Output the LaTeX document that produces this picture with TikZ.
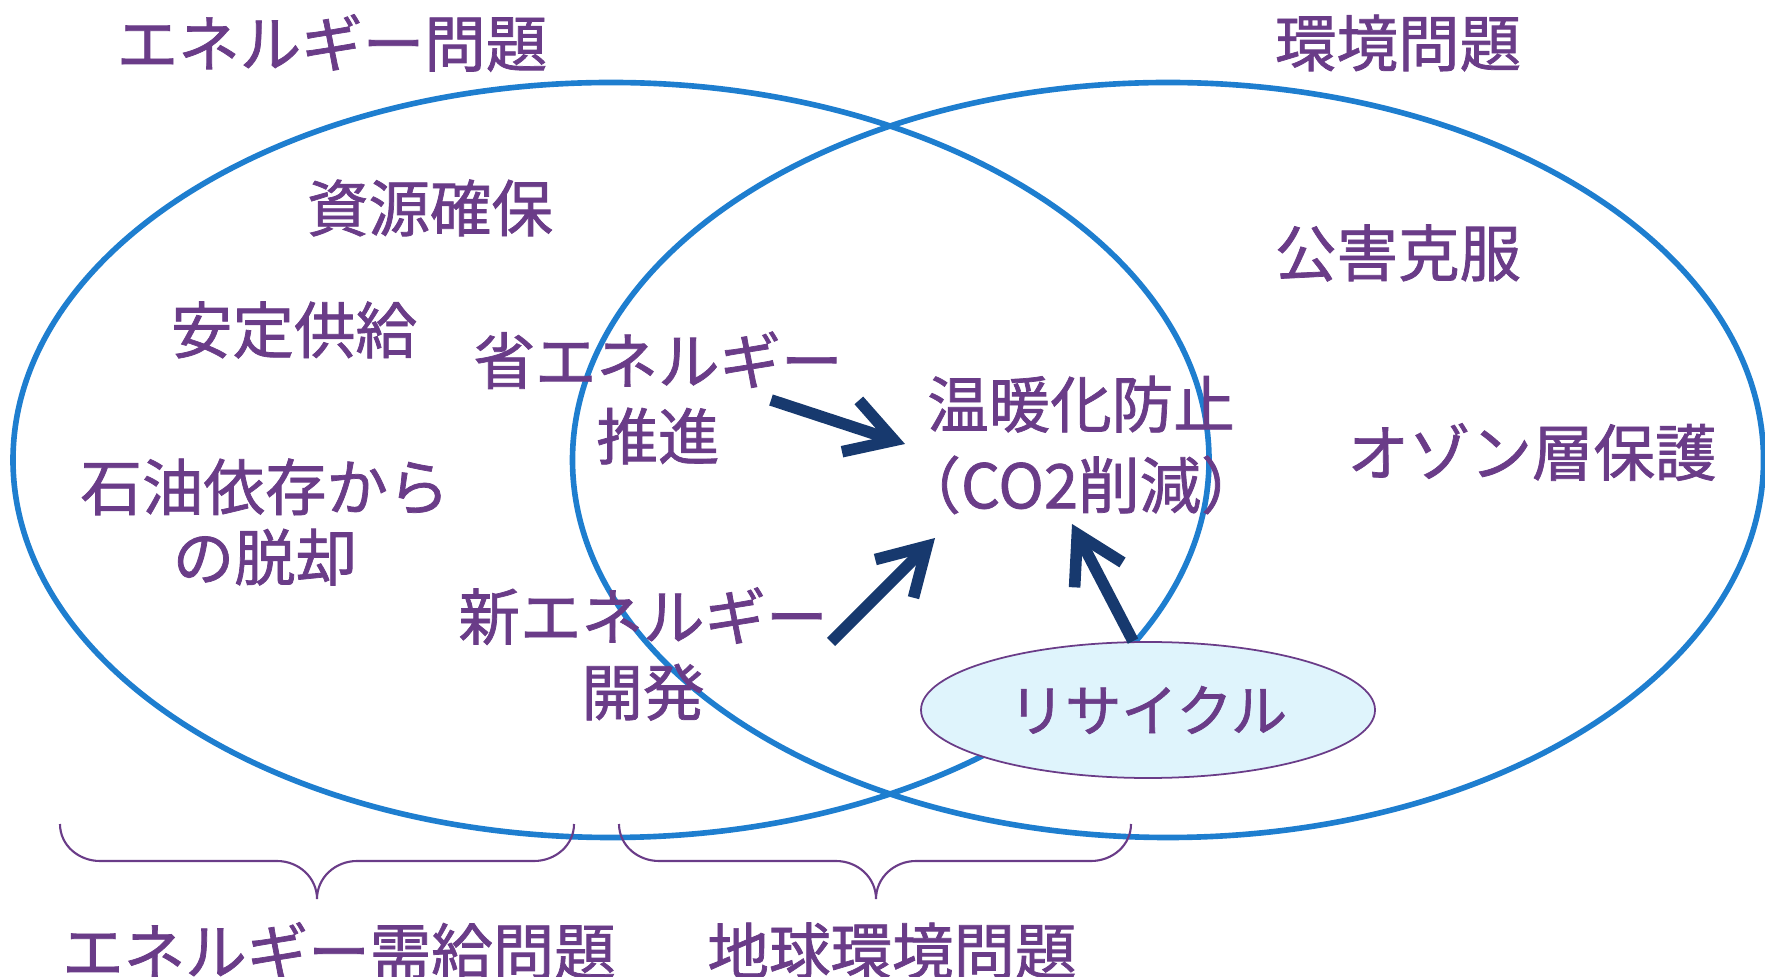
\documentclass[tikz,border=0pt]{standalone}
\usepackage{fontspec}
\setmainfont{Noto Sans CJK JP}[FakeBold=1.2]
\usetikzlibrary{arrows.meta,shapes.geometric}
\definecolor{txtpurple}{RGB}{106,60,136}
\definecolor{ringblue}{RGB}{30,126,207}
\definecolor{arrowblue}{RGB}{23,57,110}
\definecolor{recfill}{RGB}{223,244,252}
\begin{document}
\begin{tikzpicture}[line cap=butt]
        % Styles
        \tikzstyle{ring}=[draw=ringblue,line width=1.6pt]
        \tikzstyle{txt}=[text=txtpurple,font=\fontsize{17.5}{21.5}\selectfont,align=center,inner sep=2pt]
        \tikzstyle{recbox}=[ellipse,draw=txtpurple,line width=0.5pt,fill=recfill,minimum width=4.54cm,minimum height=1.36cm,inner sep=0pt]
        \tikzstyle{push}=[draw=arrowblue,line width=3.3pt,-{Straight Barb[length=4.6mm,width=5.4mm]}]
        \tikzstyle{bracket}=[draw=txtpurple,line width=0.6pt]
        \useasboundingbox (0,0) rectangle (17.65,-9.77);
        %The graphic
        %circles
        \draw[ring] (6.11,-4.60) ellipse (5.98 and 3.775);
        \draw[ring] (11.68,-4.60) ellipse (5.955 and 3.775);
        \node[recbox] (rec) at (11.48,-7.10) {};
        %labels
        \node[txt] (enemon) at (3.32,-0.43) {エネルギー問題};
        \node[txt] (kankyo) at (13.98,-0.43) {環境問題};
        \node[txt] (shigen) at (4.30,-2.08) {資源確保};
        \node[txt] (antei) at (2.94,-3.30) {安定供給};
        \node[txt] (sekiyu) at (2.65,-5.22) {石油依存から\\[-1.5pt]の脱却};
        \node[txt] (sho) at (6.58,-3.98) {省エネルギー\\推進};
        \node[txt] (shin) at (6.43,-6.54) {新エネルギー\\開発};
        \node[txt] (ondan) at (10.81,-4.45) {温暖化防止\\[1.5pt]（CO2削減）};
        \node[txt] (kogai) at (13.98,-2.53) {公害克服};
        \node[txt] (ozon) at (15.32,-4.52) {オゾン層保護};
        \node[txt,font=\fontsize{16}{19}\selectfont] at (rec) (recname) {リサイクル};
        \node[txt] (jukyu) at (3.39,-9.51) {エネルギー需給問題};
        \node[txt] (chikyu) at (8.92,-9.51) {地球環境問題};
        %arrows
        \coordinate (sho end) at (7.71,-4.00);
        \coordinate (shin end) at (8.31,-6.42);
        \coordinate (ondan in) at (9.05,-4.44);
        \coordinate (ondan low) at (9.35,-5.38);
        \draw[push] (sho end) -- (ondan in);
        \draw[push] (shin end) -- (ondan low);
        \draw[push] ([xshift=-0.15cm]rec.north) -- ([xshift=-0.09cm,yshift=-0.02cm]ondan.south);
        %braces
        \foreach \a/\b/\m in {0.60/5.74/3.17, 6.19/11.31/8.76}
        \draw[bracket] (\a,-8.24) to[out=-90,in=180] (\a+0.40,-8.61) -- (\m-0.40,-8.61)
            to[out=0,in=90] (\m,-8.99) to[out=90,in=180] (\m+0.40,-8.61)
            -- (\b-0.40,-8.61) to[out=0,in=-90] (\b,-8.24);
\end{tikzpicture}
\end{document}
